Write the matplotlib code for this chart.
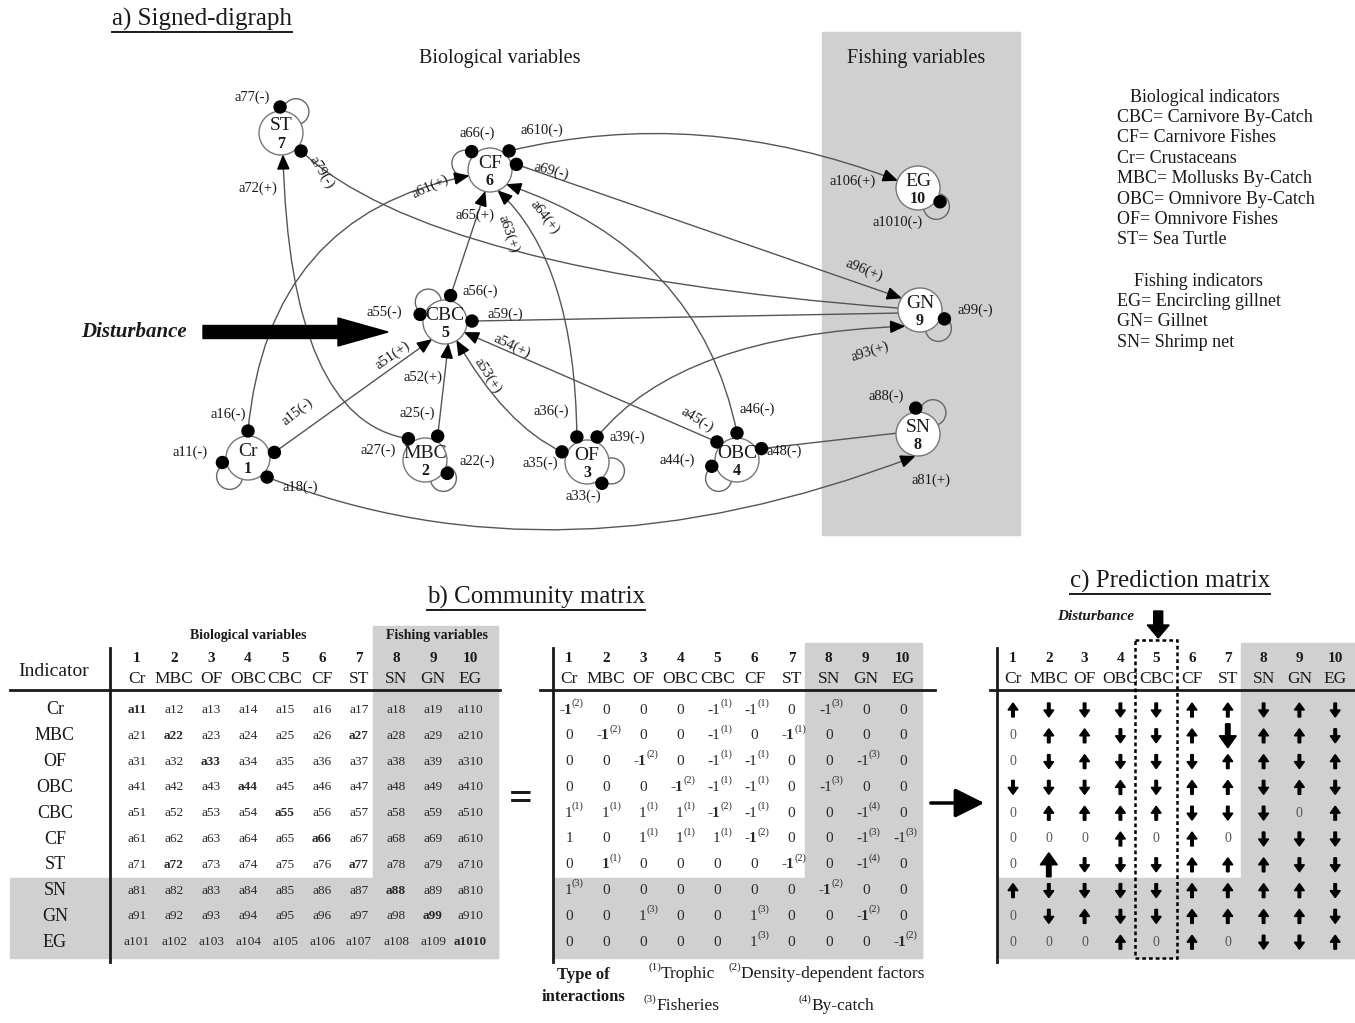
import matplotlib
matplotlib.use('Agg')
import matplotlib.pyplot as plt
import numpy as np
from matplotlib.patches import Circle, Rectangle, FancyArrow, FancyArrowPatch, Polygon, PathPatch
from matplotlib.path import Path

plt.rcParams['font.family'] = ['Liberation Serif', 'DejaVu Serif']

# ---------------- data ----------------
VARIABLES = ['Cr', 'MBC', 'OF', 'OBC', 'CBC', 'CF', 'ST', 'SN', 'GN', 'EG']
N_BIO = 7
# community matrix: row i = affected variable, column j = effect of variable j
COMMUNITY_SIGN = [
    [-1, 0, 0, 0, -1, -1, 0, -1, 0, 0],
    [0, -1, 0, 0, -1, 0, -1, 0, 0, 0],
    [0, 0, -1, 0, -1, -1, 0, 0, -1, 0],
    [0, 0, 0, -1, -1, -1, 0, -1, 0, 0],
    [1, 1, 1, 1, -1, -1, 0, 0, -1, 0],
    [1, 0, 1, 1, 1, -1, 0, 0, -1, -1],
    [0, 1, 0, 0, 0, 0, -1, 0, -1, 0],
    [1, 0, 0, 0, 0, 0, 0, -1, 0, 0],
    [0, 0, 1, 0, 0, 1, 0, 0, -1, 0],
    [0, 0, 0, 0, 0, 1, 0, 0, 0, -1],
]
# interaction type: 1 trophic, 2 density-dependent, 3 fisheries, 4 by-catch, 0 unlabelled
COMMUNITY_TYPE = [
    [2, 0, 0, 0, 1, 1, 0, 3, 0, 0],
    [0, 2, 0, 0, 1, 0, 1, 0, 0, 0],
    [0, 0, 2, 0, 1, 1, 0, 0, 3, 0],
    [0, 0, 0, 2, 1, 1, 0, 3, 0, 0],
    [1, 1, 1, 1, 2, 1, 0, 0, 4, 0],
    [0, 0, 1, 1, 1, 2, 0, 0, 3, 3],
    [0, 1, 0, 0, 0, 0, 2, 0, 4, 0],
    [3, 0, 0, 0, 0, 0, 0, 2, 0, 0],
    [0, 0, 3, 0, 0, 3, 0, 0, 2, 0],
    [0, 0, 0, 0, 0, 3, 0, 0, 0, 2],
]
STRONG_LINKS = [(1, 6), (6, 1)]
INTERACTION_TYPES = ['Trophic', 'Density-dependent factors', 'Fisheries', 'By-catch']
# prediction matrix: +1 increase, -1 decrease, 0 no change
PREDICTION = [
    [1, -1, -1, -1, -1, 1, 1, -1, 1, -1],
    [0, 1, 1, -1, -1, 1, -1, 1, 1, -1],
    [0, -1, 1, -1, -1, -1, 1, 1, -1, 1],
    [-1, -1, -1, 1, -1, 1, 1, -1, 1, -1],
    [0, 1, 1, 1, 1, -1, -1, -1, 0, 1],
    [0, 0, 0, 1, 0, 1, 0, -1, -1, -1],
    [0, 1, -1, -1, -1, 1, 1, 1, -1, -1],
    [1, -1, -1, -1, -1, 1, 1, 1, 1, -1],
    [0, -1, 1, -1, -1, 1, 1, 1, 1, -1],
    [0, 0, 0, 1, 0, 1, 0, -1, -1, 1],
]
PREDICTION_STRONG = [(1, 6), (6, 1)]
DISTURBED = 4  # CBC
BIO_LEGEND = ['CBC= Carnivore By-Catch', 'CF= Carnivore Fishes', 'Cr= Crustaceans',
              'MBC= Mollusks By-Catch', 'OBC= Omnivore By-Catch', 'OF= Omnivore Fishes',
              'ST= Sea Turtle']
FISH_LEGEND = ['EG= Encircling gillnet', 'GN= Gillnet', 'SN= Shrimp net']

# ---------------- layout (pixel coordinates) ----------------
NODE_POS = {'Cr': (248, 458), 'MBC': (425, 460), 'OF': (587, 462), 'OBC': (737, 460),
            'CBC': (445, 322), 'CF': (490, 170), 'ST': (281, 133), 'SN': (918, 434),
            'GN': (920, 310), 'EG': (918, 188)}
R = 22
# (angle at first node, angle at second node, bezier control or None)
LINK_GEOM = {
    ('Cr', 'CBC'): (12, -128, None),
    ('Cr', 'CF'): (90, 195, (268, 215)),
    ('Cr', 'SN'): (-45, -100, (560, 592)),
    ('MBC', 'CBC'): (62, -82, None),
    ('MBC', 'ST'): (128, -85, (290, 420)),
    ('OF', 'CBC'): (158, -58, (505, 425)),
    ('OF', 'CF'): (112, -68, (575, 262)),
    ('OF', 'GN'): (68, -135, (680, 335)),
    ('OBC', 'CBC'): (138, -28, None),
    ('OBC', 'CF'): (90, -40, (700, 250)),
    ('OBC', 'SN'): (25, 178, None),
    ('CBC', 'CF'): (78, -103, None),
    ('CBC', 'GN'): (2, 188, None),
    ('CF', 'GN'): (12, 148, None),
    ('CF', 'EG'): (45, 160, (700, 105)),
    ('ST', 'GN'): (-42, 175, (430, 272)),
}
# label (x, y, rotation) for head a_ij
LABEL_POS = {
    (0, 0): (190, 452, 0), (0, 4): (297, 412, 38), (0, 5): (228, 414, 0), (0, 7): (300, 487, 0),
    (1, 1): (477, 461, 0), (1, 4): (417, 413, 0), (1, 6): (378, 450, 0),
    (2, 2): (583, 496, 0), (2, 4): (540, 463, 0), (2, 5): (551, 411, 0), (2, 8): (627, 437, 0),
    (3, 3): (677, 460, 0), (3, 4): (697, 420, -32), (3, 5): (757, 409, 0), (3, 7): (784, 451, 0),
    (4, 0): (393, 355, 35), (4, 1): (423, 377, 0), (4, 2): (488, 376, -57), (4, 3): (512, 346, -25),
    (4, 4): (384, 312, 0), (4, 5): (480, 291, 0), (4, 8): (505, 314, 0),
    (5, 0): (430, 187, 25), (5, 2): (509, 234, -70), (5, 3): (545, 217, -52), (5, 4): (475, 215, 0),
    (5, 5): (477, 133, 0), (5, 8): (551, 171, -15), (5, 9): (542, 130, 0),
    (6, 1): (258, 188, 0), (6, 6): (252, 97, 0), (6, 8): (322, 172, -58),
    (7, 0): (931, 480, 0), (7, 7): (886, 396, 0),
    (8, 2): (870, 352, 18), (8, 5): (864, 270, -22), (8, 8): (975, 310, 0),
    (9, 5): (853, 181, 0), (9, 9): (898, 222, 0),
}
# self-loop: (loop direction, dot angle)
LOOP_GEOM = {'Cr': (225, 190), 'MBC': (-45, -31), 'OF': (-20, -55), 'OBC': (225, 194),
             'CBC': (130, 163), 'CF': (165, 135), 'ST': (55, 92), 'SN': (55, 95),
             'GN': (-45, -20), 'EG': (-45, -32)}

GRAY = '#d0d0d0'
LINE = '#555555'
TXT = '#1a1a1a'

fig = plt.figure(figsize=(13.55, 10.23), dpi=100)
ax = fig.add_axes([0, 0, 1, 1])
ax.set_xlim(0, 1355)
ax.set_ylim(1023, 0)
ax.axis('off')


def unit(a):
    t = np.deg2rad(a)
    return np.array([np.cos(t), -np.sin(t)])


def title(x, y, s, size=18):
    t = ax.text(x, y, s, fontsize=size, ha='left', va='center', color=TXT)
    fig.canvas.draw()
    bb = t.get_window_extent().transformed(ax.transData.inverted())
    ax.plot([bb.x0, bb.x1], [bb.y0 + 1, bb.y0 + 1], color=TXT, lw=1.4)


# ---------------- a) signed digraph ----------------
title(112, 19, 'a) Signed-digraph')
ax.add_patch(Rectangle((822, 32), 198, 503, color=GRAY, zorder=0))
ax.text(500, 58, 'Biological variables', fontsize=14.5, ha='center', va='center', color=TXT)
ax.text(916, 58, 'Fishing variables', fontsize=14.5, ha='center', va='center', color=TXT)

DOT_R = 6


def head_point(node, ang, kind):
    c = np.array(NODE_POS[node], dtype=float)
    if kind < 0:
        return c + (R + DOT_R - 1) * unit(ang)
    if kind > 0:
        return c + (R + 1) * unit(ang)
    return c + R * unit(ang)


def draw_head(p, tangent, kind):
    if kind < 0:
        ax.add_patch(Circle(p, DOT_R, color='black', zorder=6))
    elif kind > 0:
        d = tangent / np.linalg.norm(tangent)
        n = np.array([-d[1], d[0]])
        L, W = 13, 5.5
        base = p - L * d
        ax.add_patch(Polygon([p, base + W * n, base - W * n], closed=True, color='black', zorder=6))


idx = {v: k for k, v in enumerate(VARIABLES)}
for (a, b), (anga, angb, ctrl) in LINK_GEOM.items():
    i, j = idx[a], idx[b]
    ka = COMMUNITY_SIGN[i][j]
    kb = COMMUNITY_SIGN[j][i]
    pa = head_point(a, anga, ka)
    pb = head_point(b, angb, kb)
    if ctrl is None:
        path = Path([pa, pb], [Path.MOVETO, Path.LINETO])
        ta, tb = pa - pb, pb - pa
    else:
        cc = np.array(ctrl, dtype=float)
        path = Path([pa, cc, pb], [Path.MOVETO, Path.CURVE3, Path.CURVE3])
        ta, tb = pa - cc, pb - cc
    ax.add_patch(PathPatch(path, fill=False, edgecolor=LINE, lw=1.0, zorder=3))
    draw_head(pa, ta, ka)
    draw_head(pb, tb, kb)
    for (ii, jj, kk) in [(i, j, ka), (j, i, kb)]:
        if kk != 0:
            x, y, rot = LABEL_POS[(ii, jj)]
            ax.text(x, y, 'a%d%d(%s)' % (ii + 1, jj + 1, '+' if kk > 0 else '-'),
                    fontsize=10.5, ha='center', va='center', rotation=rot,
                    rotation_mode='anchor', color=TXT, zorder=7)

for name, (cx, cy) in NODE_POS.items():
    k = idx[name]
    la, da = LOOP_GEOM[name]
    lc = np.array([cx, cy]) + (R + 4) * unit(la)
    ax.add_patch(Circle(lc, 13, fill=False, edgecolor='#666666', lw=1.0, zorder=2))
    ax.add_patch(Circle((cx, cy), R, facecolor='white', edgecolor='#777777', lw=1.0, zorder=4))
    dp = np.array([cx, cy]) + (R + DOT_R - 2) * unit(da)
    ax.add_patch(Circle(dp, DOT_R, color='black', zorder=6))
    x, y, rot = LABEL_POS[(k, k)]
    ax.text(x, y, 'a%d%d(-)' % (k + 1, k + 1), fontsize=10.5, ha='center', va='center',
            color=TXT, zorder=7)
    ax.text(cx, cy - 7, name, fontsize=14, ha='center', va='center', color=TXT, zorder=7)
    ax.text(cx, cy + 11, str(k + 1), fontsize=11.5, fontweight='bold', ha='center',
            va='center', color=TXT, zorder=7)

# disturbance
ax.text(134, 332, 'Disturbance', fontsize=15, fontweight='bold', style='italic',
        ha='center', va='center', color=TXT)
ax.add_patch(FancyArrow(203, 332, 185, 0, width=13, head_width=28, head_length=50,
                        length_includes_head=True, color='black', zorder=5))

# legend
ly = 97
ax.text(1130, ly, 'Biological indicators', fontsize=13, ha='left', va='center', color=TXT)
for k, s in enumerate(BIO_LEGEND):
    ax.text(1117, ly + 20.4 * (k + 1), s, fontsize=13, ha='left', va='center', color=TXT)
ly2 = 281
ax.text(1134, ly2, 'Fishing indicators', fontsize=13, ha='left', va='center', color=TXT)
for k, s in enumerate(FISH_LEGEND):
    ax.text(1117, ly2 + 20.4 * (k + 1), s, fontsize=13, ha='left', va='center', color=TXT)

# ---------------- matrices ----------------
ROW_Y = 710 + 25.8 * np.arange(10)
NUM_Y, NAME_Y = 658, 679


def matrix_frame(x0, step, vline_x, hx0, hx1, gray_left, gray_right, gray_top):
    xs = x0 + step * np.arange(10)
    ax.add_patch(Rectangle((gray_left, 878), gray_right - gray_left, 80, color=GRAY, zorder=0))
    ax.add_patch(Rectangle((xs[N_BIO] - step / 2 - 5, gray_top), gray_right - (xs[N_BIO] - step / 2 - 5),
                           958 - gray_top, color=GRAY, zorder=0))
    ax.plot([vline_x, vline_x], [648, 962], color=TXT, lw=2.0)
    ax.plot([hx0, hx1], [690, 690], color=TXT, lw=2.0)
    for k, v in enumerate(VARIABLES):
        ax.text(xs[k], NUM_Y, str(k + 1), fontsize=11, fontweight='bold', ha='center',
                va='center', color=TXT)
        ax.text(xs[k], NAME_Y, v, fontsize=12.5, ha='center', va='center', color=TXT)
    return xs


title(427, 597, 'b) Community matrix')

# left symbolic matrix
xs_l = matrix_frame(137, 37, 110, 10, 500, 10, 498, 626)
ax.text(248, 635, 'Biological variables', fontsize=10, fontweight='bold', ha='center', va='center', color=TXT)
ax.text(437, 635, 'Fishing variables', fontsize=10, fontweight='bold', ha='center', va='center', color=TXT)
ax.text(54, 672, 'Indicator', fontsize=14, ha='center', va='center', color=TXT)
for i, v in enumerate(VARIABLES):
    ax.text(55, ROW_Y[i], v, fontsize=13, ha='center', va='center', color=TXT)
    for j in range(10):
        bold = (i == j) or ((i, j) in STRONG_LINKS)
        ax.text(xs_l[j], ROW_Y[i], 'a%d%d' % (i + 1, j + 1), fontsize=9.5,
                fontweight='bold' if bold else 'normal', ha='center', va='center', color='#2a2a2a')

ax.text(521, 800, '=', fontsize=30, fontweight='bold', ha='center', va='center', color=TXT)

# middle numeric matrix
xs_m = matrix_frame(569, 37.1, 553, 540, 935, 553, 922, 643)
for i in range(10):
    for j in range(10):
        s = COMMUNITY_SIGN[i][j]
        t = COMMUNITY_TYPE[i][j]
        bold = (i == j) or ((i, j) in STRONG_LINKS)
        main = '0' if s == 0 else ('-1' if s < 0 else '1')
        if t == 0:
            ax.text(xs_m[j], ROW_Y[i], main, fontsize=11, ha='center', va='center',
                    fontweight='bold' if bold else 'normal', color='#2a2a2a')
        else:
            ax.text(xs_m[j] + 3, ROW_Y[i], main, fontsize=11, ha='right', va='center',
                    fontweight='bold' if bold else 'normal', color='#2a2a2a')
            ax.text(xs_m[j] + 3, ROW_Y[i] - 7, '(%d)' % t, fontsize=7.5, ha='left',
                    va='center', color='#2a2a2a')

ax.text(583, 975, 'Type of', fontsize=12, fontweight='bold', ha='center', va='center', color=TXT)
ax.text(583, 997, 'interactions', fontsize=12, fontweight='bold', ha='center', va='center', color=TXT)
LEG_POS = [(661, 974), (741, 974), (656, 1006), (811, 1006)]
for k, (s, (x, y)) in enumerate(zip(INTERACTION_TYPES, LEG_POS)):
    ax.text(x, y - 7, '(%d)' % (k + 1), fontsize=8, ha='right', va='center', color=TXT)
    ax.text(x, y, s, fontsize=12.5, ha='left', va='center', color=TXT)

ax.add_patch(FancyArrowPatch((928, 803), (987, 803), arrowstyle='-|>,head_length=0.9,head_width=0.45',
                             mutation_scale=20, color='black', lw=2.5))

# ---------------- c) prediction matrix ----------------
title(1070, 581, 'c) Prediction matrix')
xs_r = matrix_frame(1013, 35.8, 997, 990, 1355, 997, 1355, 643)
xd = xs_r[DISTURBED]
ax.add_patch(Rectangle((xd - 21, 640), 42, 318, fill=False, edgecolor='black', lw=1.8,
                       linestyle=(0, (1.5, 1.2)), zorder=5))
ax.text(1096, 617, 'Disturbance', fontsize=11, fontweight='bold', style='italic',
        ha='center', va='center', color=TXT)
ax.add_patch(FancyArrow(xd + 2, 611, 0, 27, width=9, head_width=22, head_length=13,
                        length_includes_head=True, color='black', zorder=6))
for i in range(10):
    for j in range(10):
        v = PREDICTION[i][j]
        x, y = xs_r[j], ROW_Y[i]
        if v == 0:
            ax.text(x, y, '0', fontsize=10, ha='center', va='center', color='#555555')
            continue
        big = (i, j) in PREDICTION_STRONG
        L = 24 if big else 14
        hw = 17 if big else 10
        hl = 12 if big else 7
        w = 4.5 if big else 2.6
        ax.add_patch(FancyArrow(x, y + v * L / 2, 0, -v * L, width=w, head_width=hw,
                                head_length=hl, length_includes_head=True, color='black', zorder=4))

fig.savefig('out.png', dpi=100)
